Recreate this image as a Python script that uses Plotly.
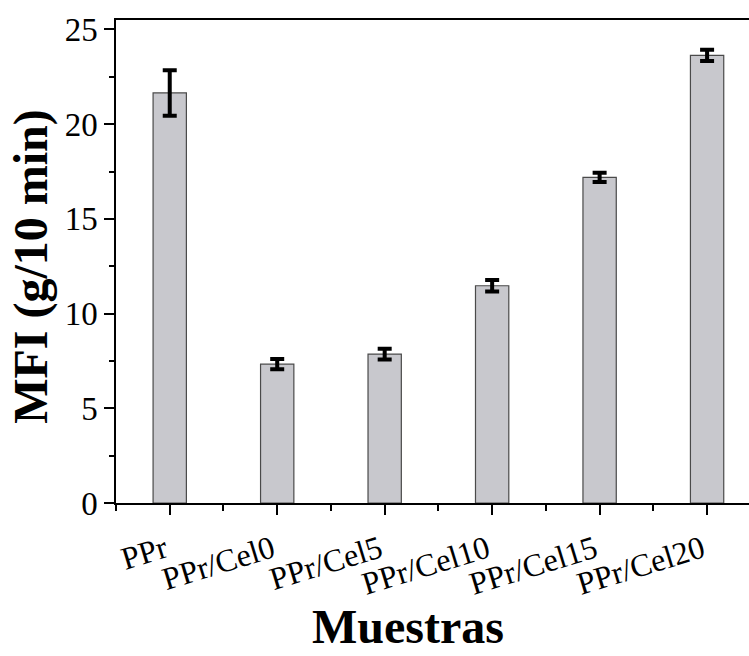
import plotly.graph_objects as go

categories = ["PPr", "PPr/Cel0", "PPr/Cel5", "PPr/Cel10", "PPr/Cel15", "PPr/Cel20"]
mfi = [21.65, 7.33, 7.86, 11.47, 17.19, 23.63]
mfi_err = [1.2, 0.27, 0.28, 0.3, 0.24, 0.3]
y_ticks = [0, 5, 10, 15, 20, 25]

xpos = list(range(len(categories)))
font_family = "Liberation Serif, Times New Roman, serif"

fig = go.Figure()
fig.add_trace(go.Bar(
    x=xpos, y=mfi, width=0.31,
    marker=dict(color="#C8C8CD", line=dict(color="#4a4a4a", width=1.2)),
    error_y=dict(type="data", array=mfi_err, visible=True, color="black", thickness=4, width=7),
    showlegend=False,
))

fig.update_layout(
    width=749, height=656,
    margin=dict(l=116, r=0, t=20, b=153),
    paper_bgcolor="white", plot_bgcolor="white",
    font=dict(family=font_family, color="black"),
    xaxis=dict(
        range=[-0.5, 5.39], tickvals=xpos, ticktext=categories, tickangle=-17,
        ticklabelshift=-5, ticklabelstandoff=4,
        showline=True, linecolor="black", linewidth=1.5, mirror=True,
        ticks="outside", ticklen=10, tickwidth=1.5, tickcolor="black",
        tickfont=dict(size=32, family=font_family),
        minor=dict(tickvals=[-0.5, 0.5, 1.5, 2.5, 3.5, 4.5], ticks="outside", ticklen=6, tickwidth=1.5, tickcolor="black"),
        showgrid=False, zeroline=False,
    ),
    yaxis=dict(
        range=[0, 25.5], tickvals=y_ticks,
        showline=True, linecolor="black", linewidth=1.5, mirror=False,
        ticks="outside", ticklen=10, tickwidth=1.5, tickcolor="black",
        tickfont=dict(size=33, family=font_family),
        minor=dict(tickvals=[2.5, 7.5, 12.5, 17.5, 22.5], ticks="outside", ticklen=5, tickwidth=1.5, tickcolor="black"),
        showgrid=False, zeroline=False,
    ),
    annotations=[
        dict(text="<b>Muestras</b>", xref="paper", yref="paper", x=0.461, y=-0.3147,
             xanchor="center", yanchor="bottom", showarrow=False,
             font=dict(size=48, family=font_family, color="black")),
        dict(text="<b>MFI (g/10 min)</b>", xref="paper", yref="paper", x=-0.1335, y=0.49,
             xanchor="center", yanchor="middle", showarrow=False, textangle=-90,
             font=dict(size=48, family=font_family, color="black")),
    ],
)

fig.write_html("out.html")
